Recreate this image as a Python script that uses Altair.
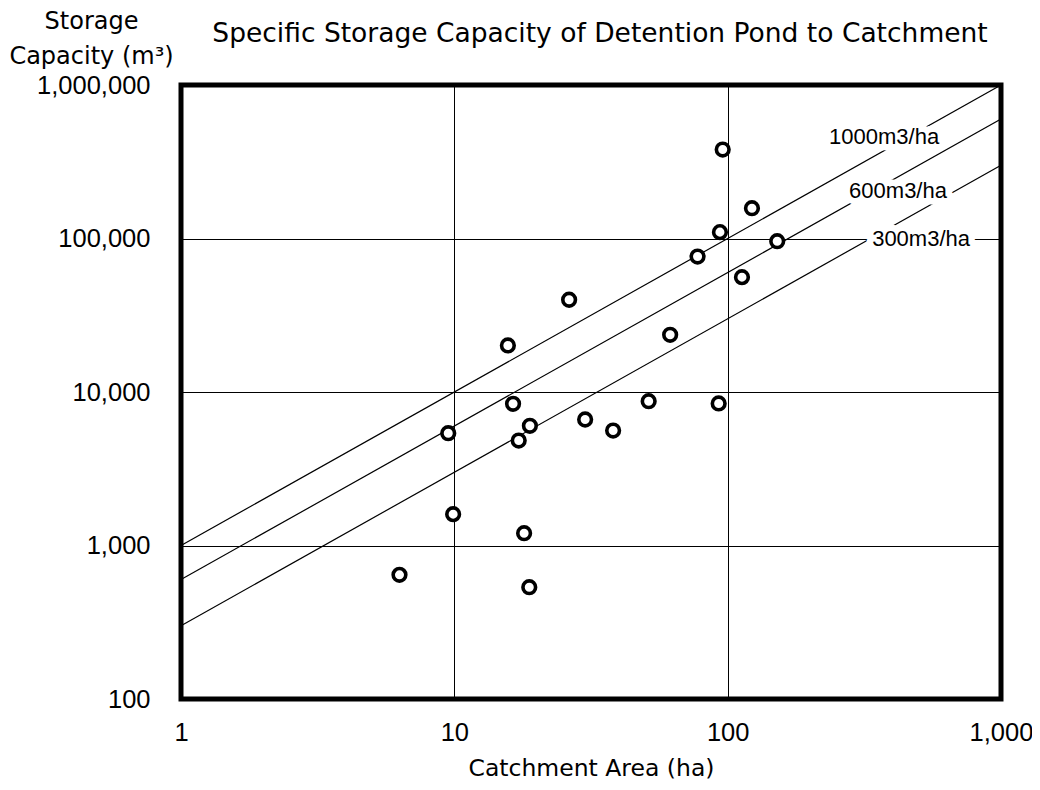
import altair as alt
import pandas as pd

# Observed detention ponds
area_ha = [6.3, 9.5, 9.9, 15.7, 16.4, 17.2, 18.0, 18.8, 18.9, 26.3, 30.1,
           38.1, 51.4, 61.6, 77.6, 92.7, 93.7, 95.9, 112.8, 122.7, 151.8]
storage_m3 = [644, 5390, 1600, 20100, 8380, 4830, 1203, 535, 6025, 39900, 6620,
              5610, 8710, 23600, 76300, 8420, 110000, 380000, 56000, 157500, 96000]

# Reference lines of specific storage (m3 per ha)
rates = [1000, 600, 300]
line_ends_ha = [1, 1000]

# Line labels
label_text = ["1000m3/ha", "600m3/ha", "300m3/ha"]
label_area = [373.6, 420, 510]
label_storage = [458000, 205400, 100000]

x_ticks = [1, 10, 100, 1000]
y_ticks = [100, 1000, 10000, 100000, 1000000]

pts = pd.DataFrame({"area": area_ha, "storage": storage_m3})
lines = pd.DataFrame([{"rate": r, "area": a, "storage": r * a}
                      for r in rates for a in line_ends_ha])
labels = pd.DataFrame({"text": label_text, "area": label_area, "storage": label_storage})

NUM_FONT = "Liberation Sans, Arial, sans-serif"
TXT_FONT = "DejaVu Sans, sans-serif"

xs = alt.Scale(type="log", domain=[1, 1000], nice=False)
ys = alt.Scale(type="log", domain=[100, 1000000], nice=False)

x_axis = alt.Axis(values=x_ticks, format=",d", title="Catchment Area (ha)",
                  grid=True, gridColor="black", gridOpacity=1, gridWidth=1,
                  domain=False, ticks=False, tickSize=0,
                  labelFont=NUM_FONT, labelFontSize=25.5, labelColor="black",
                  labelPadding=21, labelBaseline="top", labelFlush=False,
                  titleFont=TXT_FONT, titleFontSize=23.5, titleFontWeight="normal",
                  titleColor="black", titleBaseline="alphabetic", titleY=76)
y_axis = alt.Axis(values=y_ticks, format=",d", title=["Storage", "Capacity (m³)"],
                  grid=True, gridColor="black", gridOpacity=1, gridWidth=1,
                  domain=False, ticks=False, tickSize=0,
                  labelFont=NUM_FONT, labelFontSize=25.5, labelColor="black",
                  labelPadding=31, labelFlush=False,
                  titleFont=TXT_FONT, titleFontSize=24, titleFontWeight="normal",
                  titleColor="black", titleAngle=0, titleAlign="center",
                  titleBaseline="alphabetic", titleX=-90, titleY=-57,
                  titleLineHeight=35)

X = alt.X("area:Q", scale=xs, axis=x_axis)
Y = alt.Y("storage:Q", scale=ys, axis=y_axis)

line_layer = alt.Chart(lines).mark_line(color="black", strokeWidth=1.2).encode(
    x=X, y=Y, detail="rate:N")

halo = alt.Chart(labels).mark_text(
    font=NUM_FONT, fontSize=22, color="white", stroke="white", strokeWidth=13,
    strokeJoin="round", align="center", baseline="middle").encode(
    x=X, y=Y, text="text:N")

text = alt.Chart(labels).mark_text(
    font=NUM_FONT, fontSize=22, color="black", align="center",
    baseline="middle").encode(x=X, y=Y, text="text:N")

points = alt.Chart(pts).mark_point(
    shape="circle", filled=True, fill="white", stroke="black", strokeWidth=3.6,
    size=160, opacity=1).encode(x=X, y=Y)

chart = alt.layer(line_layer, halo, text, points).properties(
    width=820, height=614,
    background="white",
    title=alt.TitleParams("Specific Storage Capacity of Detention Pond to Catchment",
                          font=TXT_FONT, fontSize=26.5, fontWeight="normal",
                          color="black", anchor="middle", frame="group",
                          baseline="alphabetic", offset=0, dx=9, dy=59),
    autosize=alt.AutoSizeParams(type="none"),
    padding={"left": 173, "top": 77, "right": 31, "bottom": 83},
).configure_view(stroke="black", strokeWidth=5)

chart.save("out.html", embed_options={"renderer": "svg", "actions": False})
